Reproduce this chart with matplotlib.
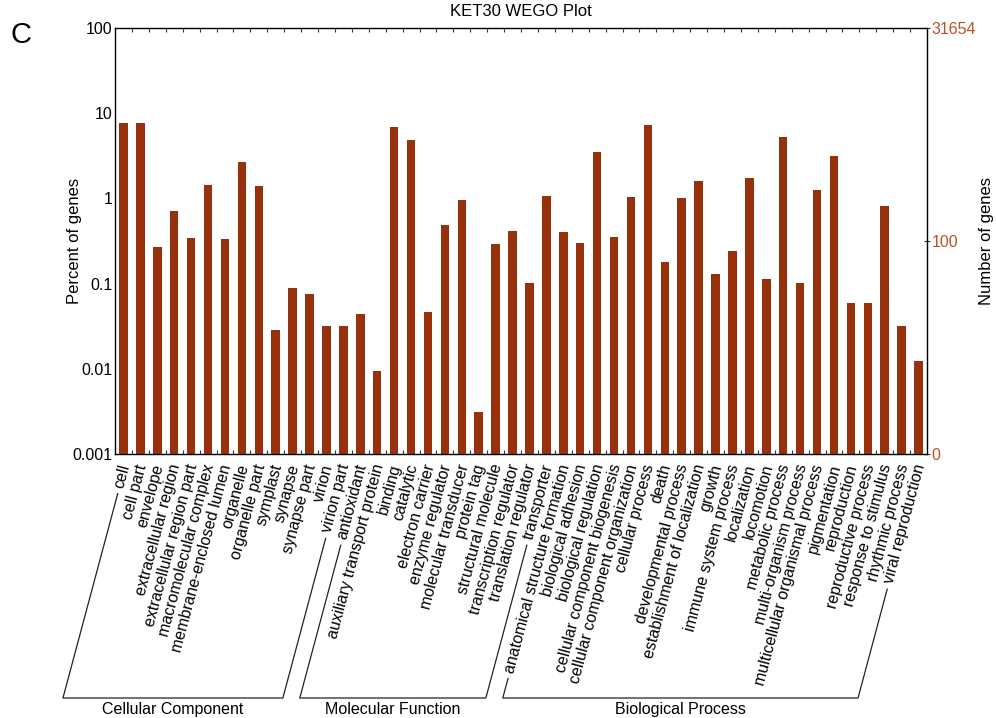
import numpy as np
import matplotlib
matplotlib.use("Agg")
import matplotlib.pyplot as plt
from matplotlib.lines import Line2D
from matplotlib.ticker import FixedLocator, NullLocator

plt.rcParams["font.family"] = ["Liberation Sans", "DejaVu Sans"]

# ------------------------------------------------------------
# Data (percent of genes)
# ------------------------------------------------------------
categories = [
    # Cellular Component
    "cell", "cell part", "envelope", "extracellular region",
    "extracellular region part", "macromolecular complex",
    "membrane-enclosed lumen", "organelle", "organelle part", "symplast",
    "synapse", "synapse part", "virion", "virion part",
    # Molecular Function
    "antioxidant", "auxiliary transport protein", "binding", "catalytic",
    "electron carrier", "enzyme regulator", "molecular transducer",
    "protein tag", "structural molecule", "transcription regulator",
    "translation regulator", "transporter",
    # Biological Process
    "anatomical structure formation", "biological adhesion",
    "biological regulation", "cellular component biogenesis",
    "cellular component organization", "cellular process", "death",
    "developmental process", "establishment of localization", "growth",
    "immune system process", "localization", "locomotion",
    "metabolic process", "multi-organism process",
    "multicellular organismal process", "pigmentation", "reproduction",
    "reproductive process", "response to stimulus", "rhythmic process",
    "viral reproduction",
]

percent = [
    7.76, 7.76, 0.27, 0.716, 0.344, 1.43, 0.338, 2.70, 1.41, 0.0283,
    0.0881, 0.0749, 0.0315, 0.0315,
    0.044, 0.0094, 6.84, 4.86, 0.0469, 0.486, 0.964, 0.00309, 0.293,
    0.409, 0.101, 1.08,
    0.398, 0.298, 3.51, 0.357, 1.05, 7.36, 0.181, 1.01, 1.60, 0.129,
    0.242, 1.75, 0.113, 5.22, 0.101, 1.25, 3.18, 0.0593, 0.0593, 0.820,
    0.0315, 0.0125,
]

group_names = ["Cellular Component", "Molecular Function", "Biological Process"]
group_sizes = [14, 12, 22]

total_genes = 31654
right_ticks = [0, 100, total_genes]

left_ticks = [0.001, 0.01, 0.1, 1, 10, 100]
left_tick_labels = ["0.001", "0.01", "0.1", "1", "10", "100"]

# ------------------------------------------------------------
# Figure
# ------------------------------------------------------------
W, H = 996, 718
bar_color = "#96310c"
num_color = "#bf5024"
angle = 75

fig = plt.figure(figsize=(W / 100, H / 100), dpi=100)
ax = fig.add_axes([115 / W, 264 / H, 812 / W, 426 / H])

ymin, ymax = 0.001, 100
x = np.arange(len(categories))
vals = np.array(percent)
ax.bar(x, vals - ymin, bottom=ymin, width=0.5, color=bar_color, zorder=2)

ax.set_yscale("log")
ax.set_ylim(ymin, ymax)
ax.set_xlim(-0.5, len(categories) - 0.5)

ax.yaxis.set_major_locator(FixedLocator(left_ticks))
ax.yaxis.set_minor_locator(NullLocator())
ax.set_yticklabels(left_tick_labels)
ax.tick_params(axis="y", length=0, pad=2, labelsize=11.5)

# category boundary ticks on top and bottom
ax.xaxis.set_major_locator(FixedLocator(np.arange(0.5, len(categories) - 0.5)))
ax.tick_params(axis="x", direction="in", length=3, width=0.8, top=True,
               labelbottom=False, color="#333333")
for s in ax.spines.values():
    s.set_color("#333333")
    s.set_linewidth(1.0)

ax.set_ylabel("Percent of genes", fontsize=12)
ax.yaxis.set_label_coords(-0.041, 0.5)

# right axis: number of genes
ax2 = ax.twinx()
ax2.set_yscale("log")
ax2.set_ylim(ymin, ymax)
right_pos = [ymin] + [n / total_genes * 100 for n in right_ticks[1:]]
ax2.yaxis.set_major_locator(FixedLocator(right_pos))
ax2.yaxis.set_minor_locator(NullLocator())
ax2.set_yticklabels([str(n) for n in right_ticks])
ax2.tick_params(axis="y", direction="inout", length=5, width=0.8, pad=1,
                labelsize=11.5, labelcolor=num_color, color="#333333")
ax2.set_ylabel("Number of genes", fontsize=12)
ax2.yaxis.set_label_coords(1.064, 0.5)

# category labels
dx_pt, dy_pt = 1.5, -7.5
labels = []
for i, name in enumerate(categories):
    t = ax.annotate(name, xy=(i, 0), xycoords=("data", "axes fraction"),
                    xytext=(dx_pt, dy_pt), textcoords="offset points",
                    rotation=angle, rotation_mode="anchor",
                    ha="right", va="center", fontsize=11.5)
    labels.append(t)

# title and panel letter
fig.text(521 / W, 1 - 12 / H, "KET30 WEGO Plot", ha="center", va="center",
         fontsize=12)
fig.text(21 / W, 1 - 35 / H, "C", ha="center", va="center", fontsize=21)

# ------------------------------------------------------------
# Group brackets, built from the label positions
# ------------------------------------------------------------
fig.canvas.draw()
renderer = fig.canvas.get_renderer()
bracket_y = H - 698
tan_a = np.tan(np.radians(angle))


def slant_top(idx):
    xd, yd = ax.transData.transform((idx, ymin))
    xa = xd + dx_pt * fig.dpi / 72
    ya = yd + dy_pt * fig.dpi / 72
    bb = labels[idx].get_window_extent(renderer)
    y_top = bb.y0 - 4
    x_top = xa - (ya - y_top) / tan_a
    x_bot = xa - (ya - bracket_y) / tan_a
    return x_top, y_top, x_bot


start = 0
for name, size in zip(group_names, group_sizes):
    first, last = start, start + size - 1
    xt0, yt0, xb0 = slant_top(first)
    xt1, yt1, xb1 = slant_top(last)
    kw = dict(transform=None, color="#222222", linewidth=0.9)
    fig.add_artist(Line2D([xt0, xb0, xb1, xt1], [yt0, bracket_y, bracket_y, yt1], **kw))
    fig.text((xb0 + xb1) / 2 / W, (bracket_y - 4) / H, name, ha="center",
             va="top", fontsize=11.5)
    start += size

fig.savefig("out.png", dpi=100)
